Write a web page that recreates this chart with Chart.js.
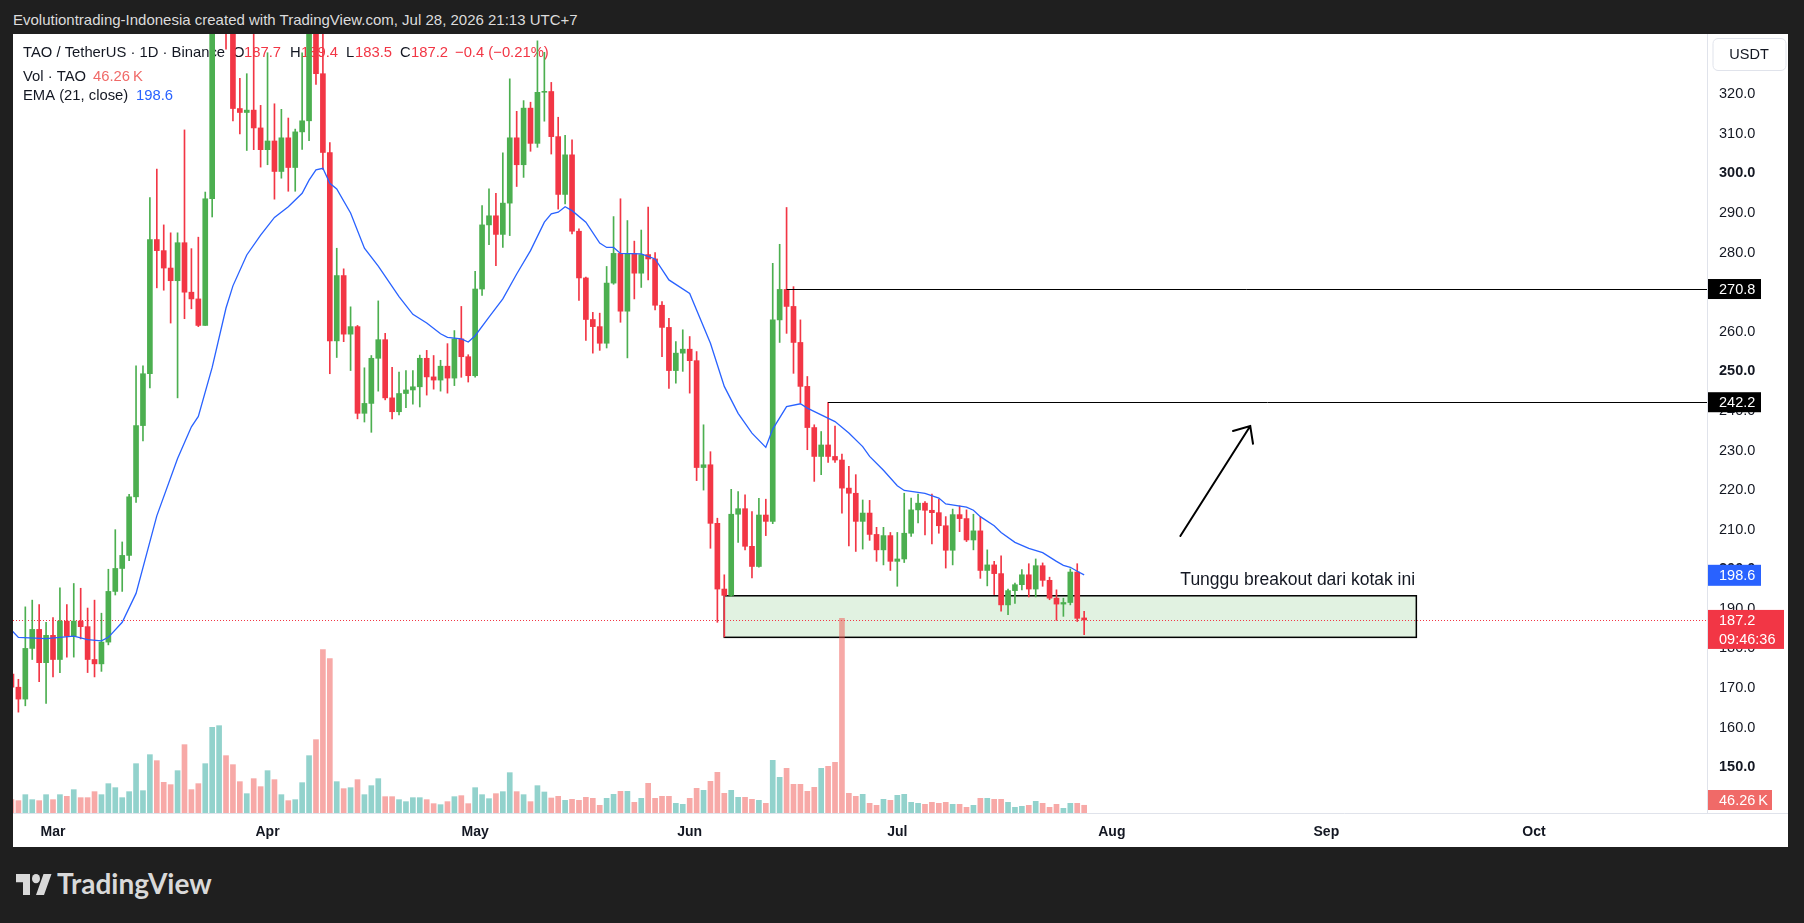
<!DOCTYPE html>
<html>
<head>
<meta charset="utf-8">
<title>TAO / TetherUS 1D</title>
<script src="https://cdn.jsdelivr.net/npm/chart.js"></script>
<style>
    html, body { margin: 0; padding: 0; }
    body { width: 1804px; height: 923px; background: #1f1f1f; position: relative; overflow: hidden;
           font-family: "Liberation Sans", Arial, sans-serif; }
    .header { position: absolute; left: 13px; top: 0; height: 40px; line-height: 40px; color: #dcdcdc;
              font-size: 15px; white-space: nowrap; }
    .panel { position: absolute; left: 13px; top: 34px; width: 1775px; height: 813px; background: #fff; }
    .brand { position: absolute; left: 0; top: 866px; }
</style>
</head>
<body>
    <div class="header">Evolutiontrading-Indonesia created with TradingView.com, Jul 28, 2026 21:13 UTC+7</div>
    <div class="panel">
        <canvas id="taoChart"></canvas>
    </div>
    <svg class="brand" width="260" height="45">
        <g transform="translate(16,3.3) scale(1.0,1.17)" fill="#d9d9d9">
            <path d="M14 22H7V11H0V4h14v18zM28 22h-8l7.5-18h8L28 22z"></path>
            <circle cx="20" cy="8" r="4"></circle>
        </g>
        <text x="57" y="27.6" fill="#d9d9d9" font-family="Lato, 'Open Sans', sans-serif" font-weight="700" font-size="28">TradingView</text>
    </svg>

    <script>
        // days counted from 1 Mar 2026 (day 0); first candle is 23 Feb
        const firstDay = -6;

        const opens = [
            173.5,170.2,167.2,180.0,184.8,176.4,183.3,177.2,186.9,183.1,
            186.9,185.5,177.2,176.1,181.6,194.4,200.2,203.5,218.3,236.3,
            249.4,283.3,280.5,276.1,272.9,282.5,270.0,268.3,261.6,293.6,
            345.0,355.0,340.0,316.4,315.4,316.0,311.5,306.0,308.2,300.5,
            309.0,301.5,310.5,313.3,341.0,325.2,305.3,257.7,274.2,259.4,
            261.3,239.4,241.9,253.3,258.0,243.3,239.8,244.4,245.3,246.1,
            253.3,248.6,247.8,251.3,248.3,258.2,253.7,248.9,270.8,287.0,
            289.3,284.6,292.5,309.0,302.2,316.5,307.6,320.5,320.7,309.3,
            294.7,304.7,285.4,273.6,263.1,261.3,257.1,272.3,279.8,265.2,
            279.8,274.8,279.5,278.4,266.7,261.1,250.2,254.6,255.6,252.7,
            225.7,226.4,211.6,195.0,193.4,213.9,215.3,205.8,200.7,213.7,
            212.1,263.0,270.7,266.4,257.3,246.2,235.8,228.5,231.4,228.5,
            227.6,220.5,219.2,212.1,214.2,208.8,204.9,208.5,202.0,202.6,
            209.1,215.0,216.7,214.9,214.3,211.0,204.8,213.8,212.8,207.4,
            209.7,199.7,201.1,198.9,191.0,194.6,196.1,198.6,195.0,200.9,
            197.2,192.7,191.2,191.6,199.3,187.7
        ];
        const highs = [
            175.5,172.2,190.5,192.2,191.1,186.6,187.8,195.3,191.1,196.4,
            195.2,190.2,192.2,188.9,200.0,210.0,206.9,218.9,251.4,251.4,
            293.9,301.1,287.0,285.0,285.0,311.0,281.0,283.9,295.3,352.0,
            365.0,360.0,345.0,324.0,325.2,336.0,317.2,330.5,317.6,316.2,
            314.0,311.2,330.5,348.0,347.0,336.5,307.8,281.1,275.9,266.3,
            261.6,250.9,254.0,267.8,259.6,251.0,249.8,250.2,250.2,254.1,
            255.3,254.0,252.8,257.0,260.3,266.4,254.2,275.3,291.9,296.1,
            295.0,305.2,323.9,315.7,318.4,318.0,333.5,330.6,323.0,314.2,
            309.6,308.5,286.0,273.8,264.9,264.7,276.5,289.1,293.6,288.1,
            282.9,285.7,291.5,280.0,267.6,263.4,257.5,260.5,258.8,255.0,
            236.5,229.7,212.9,198.6,220.2,219.6,218.8,214.6,217.9,217.7,
            277.3,282.1,291.4,271.4,263.0,248.7,236.5,234.8,242.2,236.2,
            229.1,226.0,223.9,217.5,217.4,210.6,210.6,209.3,209.3,219.2,
            218.0,219.0,217.1,219.0,217.7,213.3,215.2,216.0,215.0,213.9,
            213.2,204.9,202.0,203.4,195.0,196.5,199.9,201.4,202.6,201.6,
            198.0,194.8,192.7,200.1,201.4,189.4
        ];
        const lows = [
            168.5,163.9,165.5,177.2,171.6,166.1,172.8,173.9,177.8,177.8,
            182.4,173.9,172.8,174.2,180.9,193.5,194.4,202.2,216.9,232.4,
            245.8,271.1,270.5,262.2,243.3,263.3,265.8,261.3,261.6,289.0,
            338.0,331.4,313.3,310.0,305.8,306.0,301.6,302.2,293.5,298.8,
            295.5,295.5,306.1,308.3,322.5,301.0,249.4,253.5,257.5,250.2,
            238.0,237.2,234.6,245.0,242.8,238.0,239.0,240.8,241.7,241.0,
            244.0,245.5,245.0,244.5,246.4,248.5,247.3,248.5,269.2,282.0,
            276.7,281.3,284.3,296.7,299.0,305.6,306.6,313.2,304.9,291.0,
            292.3,284.7,267.9,257.8,254.6,255.3,255.9,272.0,262.4,253.4,
            268.3,271.2,273.1,265.5,253.7,245.7,247.0,250.0,244.5,222.4,
            220.0,205.3,186.6,182.9,193.1,206.8,204.9,197.8,200.5,208.5,
            211.5,257.3,259.6,249.5,242.0,230.2,222.2,223.9,227.0,227.0,
            214.2,205.9,204.5,205.1,207.3,202.0,201.1,199.7,195.7,201.7,
            208.3,211.7,208.7,206.4,209.1,200.3,201.1,209.5,207.0,204.9,
            197.7,195.8,193.6,189.4,188.5,191.4,194.8,193.0,193.0,195.7,
            192.3,187.1,188.1,191.0,186.8,183.5
        ];
        const closes = [
            170.2,167.2,180.0,184.8,176.4,183.3,177.2,186.9,183.1,186.9,
            185.5,177.2,176.1,181.6,194.4,200.2,203.5,218.3,236.3,249.4,
            283.3,280.5,276.1,272.9,282.5,270.0,268.3,261.6,293.6,345.0,
            355.0,340.0,316.4,315.4,316.0,311.5,306.0,308.2,300.5,309.0,
            301.5,310.5,313.3,341.0,325.2,305.3,257.7,274.2,259.4,261.3,
            239.4,241.9,253.3,258.0,243.3,239.8,244.4,245.3,246.1,253.3,
            248.6,247.8,251.3,248.3,258.2,253.7,248.9,270.8,287.0,289.3,
            284.6,292.5,309.0,302.2,316.5,307.6,320.5,320.7,309.3,294.7,
            304.7,285.4,273.6,263.1,261.3,257.1,272.3,279.8,265.2,279.8,
            274.8,279.5,278.4,266.7,261.1,250.2,254.6,255.6,252.7,225.7,
            226.4,211.6,195.0,193.4,213.9,215.3,205.8,200.7,213.7,212.1,
            263.0,270.7,266.4,257.3,246.2,235.8,228.5,231.4,228.5,227.6,
            220.5,219.2,212.1,214.2,208.8,204.9,208.5,202.0,202.6,209.1,
            215.0,216.7,214.9,214.3,211.0,204.8,213.8,212.8,207.4,209.7,
            199.7,201.1,198.9,191.0,194.6,196.1,198.6,195.0,200.9,197.2,
            192.7,191.2,191.6,199.3,187.6,187.2
        ];
        // volume in thousands of TAO
        const volumes = [
            80,74,110,80,74,110,80,110,100,140,
            92,92,128,110,176,152,92,128,296,134,
            350,314,184,170,254,410,140,176,296,514,
            524,344,290,188,116,206,158,254,200,110,
            74,80,182,344,440,980,926,188,146,152,
            200,110,164,206,98,98,80,68,92,92,
            80,56,50,68,98,104,56,152,110,86,
            116,128,242,128,110,68,164,126,90,100,
            76,82,76,94,88,46,88,112,130,130,
            64,88,178,88,100,100,58,52,88,148,
            136,190,244,118,136,94,94,82,76,58,
            316,214,268,172,172,130,154,268,280,304,
            1168,118,100,112,58,46,82,76,106,112,
            64,58,52,64,58,64,52,52,34,46,
            88,88,82,82,64,34,40,46,70,58,
            34,52,28,58,58,46.26
        ];

        // EMA(21)
        const emaDays = [-6,-5,-1,3,5,7,8,10,12,15,18,20,21,23,25,26,28,30,32,34,36,37,38,39,40,41,43,45,47,50,
            52,54,56,57,59,60,61,63,65,67,69,71,72,73,74,75,77,79,80,81,82,85,87,89,92,95,97,99,101,103,
            104,106,108,109,111,113,115,117,118,120,122,123,126,128,129,132,133,134,136,137,139,141,143,145,146,147,148,149];
        const emaValues = [184.6,182.8,182.5,183.1,182.2,181.9,182.8,186.6,193.9,213.5,228.0,236.0,238.6,251.0,266.0,271.6,279.4,284.4,288.9,291.6,295.0,298.3,300.9,301.3,297.5,296.1,290.0,281.1,276.6,268.9,
            264.4,262.2,259.5,258.6,258.2,257.4,259.0,263.7,268.3,274.6,280.5,287.7,289.8,290.2,291.6,290.6,287.7,282.4,281.3,281.3,279.8,279.7,278.4,273.1,269.7,257.1,246.2,239.4,234.4,230.8,
            235.4,241.1,241.8,240.7,239.0,237.3,234.4,231.0,228.5,225.0,221.1,219.9,219.2,218.0,216.5,215.7,214.9,213.3,211.0,209.3,206.8,205.3,204.2,202.0,201.0,200.5,199.5,198.6];

        const monthDays = [0, 31, 61, 92, 122, 153, 184, 214];
        const monthNames = ['Mar', 'Apr', 'May', 'Jun', 'Jul', 'Aug', 'Sep', 'Oct'];
        const priceTicks = [150,160,170,180,190,200,210,220,230,240,250,260,270,280,290,300,310,320];

        // drawings
        const levelValues = [270.8, 242.2];
        const levelFromDays = [106, 112];
        const boxDays = [97, 197];
        const boxPrices = [193.3, 182.8];
        const noteText = 'Tunggu breakout dari kotak ini';
        const noteDay = 162.9, notePrice = 197.3;
        const arrowDays = [162.9, 173.0];
        const arrowPrices = [208.4, 236.2];

        const lastPrice = 187.2, lastEma = 198.6, lastVolume = 46.26;
        const countdown = '09:46:36';

        const uiFont = '"Liberation Sans", Arial, sans-serif';
        const GREEN = '#4caf50', RED = '#f23645', BLUE = '#2962ff', INK = '#131722';

        const days = opens.map((_, i) => firstDay + i);
        const up = opens.map((o, i) => closes[i] >= o);
        const candleColors = up.map(u => u ? GREEN : RED);
        const volColors = up.map(u => u ? 'rgba(38,166,154,0.5)' : 'rgba(239,83,80,0.5)');

        Chart.defaults.font.family = uiFont;
        Chart.defaults.color = INK;

        function tag(ctx, left, yMid, w, h, bg, lines) {
            ctx.fillStyle = bg;
            ctx.fillRect(left, yMid - 10, w, h);
            ctx.fillStyle = '#fff';
            ctx.font = '14.5px ' + uiFont;
            ctx.textAlign = 'left';
            ctx.textBaseline = 'middle';
            lines.forEach((t, i) => ctx.fillText(t, left + 11, yMid + 1 + i * 19));
        }

        const drawings = {
            id: 'drawings',
            beforeDatasetsDraw(chart) {
                const { ctx, chartArea: a, scales: { x, y } } = chart;
                ctx.save();

                // legend
                ctx.textBaseline = 'middle';
                ctx.textAlign = 'left';
                ctx.font = '14.8px ' + uiFont;
                const put = (t, px, py, c) => { ctx.fillStyle = c; ctx.fillText(t, px, py); };
                put('TAO / TetherUS · 1D · Binance', 10, 19, INK);
                put('O', 220, 19, INK); put('187.7', 231, 19, RED);
                put('H', 277, 19, INK); put('189.4', 288, 19, RED);
                put('L', 333, 19, INK); put('183.5', 342, 19, RED);
                put('C', 387, 19, INK); put('187.2', 398, 19, RED);
                put('\u22120.4 (\u22120.21%)', 442, 19, RED);
                put('Vol · TAO', 10, 42.5, INK); put('46.26\u202fK', 80, 42.5, '#f06a68');
                put('EMA (21, close)', 10, 62, INK); put('198.6', 123, 62, BLUE);

                // box
                const bx0 = x.getPixelForValue(boxDays[0]), bx1 = x.getPixelForValue(boxDays[1]);
                const by0 = y.getPixelForValue(boxPrices[0]), by1 = y.getPixelForValue(boxPrices[1]);
                ctx.fillStyle = 'rgba(76,175,80,0.17)';
                ctx.fillRect(bx0, by0, bx1 - bx0, by1 - by0);
                ctx.strokeStyle = '#000';
                ctx.lineWidth = 1.5;
                ctx.strokeRect(bx0, by0, bx1 - bx0, by1 - by0);

                // last price line
                const py = Math.round(y.getPixelForValue(lastPrice)) + 0.5;
                ctx.strokeStyle = RED;
                ctx.lineWidth = 1;
                ctx.setLineDash([1, 2]);
                ctx.beginPath();
                ctx.moveTo(a.left, py);
                ctx.lineTo(a.right, py);
                ctx.stroke();
                ctx.restore();
            },
            afterDatasetsDraw(chart) {
                const { ctx, chartArea: a, scales: { x, y } } = chart;
                ctx.save();
                ctx.strokeStyle = '#000';
                ctx.lineWidth = 1;
                levelValues.forEach((v, i) => {
                    const ly = Math.round(y.getPixelForValue(v)) + 0.5;
                    ctx.beginPath();
                    ctx.moveTo(x.getPixelForValue(levelFromDays[i]), ly);
                    ctx.lineTo(a.right, ly);
                    ctx.stroke();
                });

                // arrow
                const x0 = x.getPixelForValue(arrowDays[0]), y0 = y.getPixelForValue(arrowPrices[0]);
                const x1 = x.getPixelForValue(arrowDays[1]), y1 = y.getPixelForValue(arrowPrices[1]);
                const ang = Math.atan2(y0 - y1, x0 - x1);
                ctx.lineWidth = 2;
                ctx.lineCap = 'round';
                ctx.beginPath();
                ctx.moveTo(x0, y0);
                ctx.lineTo(x1, y1);
                ctx.moveTo(x1 + 18 * Math.cos(ang + 0.72), y1 + 18 * Math.sin(ang + 0.72));
                ctx.lineTo(x1, y1);
                ctx.lineTo(x1 + 18 * Math.cos(ang - 0.72), y1 + 18 * Math.sin(ang - 0.72));
                ctx.stroke();

                ctx.fillStyle = INK;
                ctx.font = '17.5px ' + uiFont;
                ctx.textAlign = 'left';
                ctx.textBaseline = 'middle';
                ctx.fillText(noteText, x.getPixelForValue(noteDay), y.getPixelForValue(notePrice));
                ctx.restore();
            },
            afterDraw(chart) {
                const { ctx, chartArea: a, scales: { y, vol } } = chart;
                const left = y.left + 1;
                ctx.save();
                // time axis separator across the whole panel
                ctx.strokeStyle = '#e0e3eb';
                ctx.lineWidth = 1;
                ctx.beginPath();
                ctx.moveTo(0, a.bottom + 0.5);
                ctx.lineTo(chart.width, a.bottom + 0.5);
                ctx.stroke();

                levelValues.forEach(v => tag(ctx, left, y.getPixelForValue(v), 53, 20, '#000', [v.toFixed(1)]));
                tag(ctx, left, y.getPixelForValue(lastEma), 53, 21, BLUE, [lastEma.toFixed(1)]);
                tag(ctx, left, y.getPixelForValue(lastPrice), 76, 39, RED, [lastPrice.toFixed(1), countdown]);
                const vy = Math.min(vol.getPixelForValue(lastVolume), a.bottom - 13);
                tag(ctx, left, vy, 64, 20, '#f06a68', ['46.26\u202fK']);

                // currency button
                ctx.fillStyle = '#fff';
                ctx.strokeStyle = '#e0e3eb';
                ctx.beginPath();
                ctx.roundRect(left + 5, 4.5, 73, 32, 5);
                ctx.fill();
                ctx.stroke();
                ctx.fillStyle = INK;
                ctx.font = '14.5px ' + uiFont;
                ctx.textAlign = 'center';
                ctx.textBaseline = 'middle';
                ctx.fillText('USDT', left + 41, 21);
                ctx.restore();
            }
        };

        const ctx = document.getElementById('taoChart').getContext('2d');
        const taoChart = new Chart(ctx, {
            type: 'bar',
            data: {
                datasets: [
                    {
                        label: 'Volume',
                        data: days.map((d, i) => ({ x: d, y: volumes[i] })),
                        yAxisID: 'vol',
                        backgroundColor: volColors,
                        barThickness: 5,
                        grouped: false,
                        order: 4
                    },
                    {
                        label: 'Wick',
                        data: days.map((d, i) => ({ x: d, y: [lows[i], highs[i]] })),
                        yAxisID: 'y',
                        backgroundColor: candleColors,
                        barThickness: 1,
                        grouped: false,
                        order: 3
                    },
                    {
                        label: 'Body',
                        data: days.map((d, i) => ({ x: d, y: [opens[i], closes[i]] })),
                        yAxisID: 'y',
                        backgroundColor: candleColors,
                        barThickness: 5,
                        minBarLength: 1,
                        grouped: false,
                        order: 2
                    },
                    {
                        type: 'line',
                        label: 'EMA 21',
                        data: emaDays.map((d, i) => ({ x: d, y: emaValues[i] })),
                        yAxisID: 'y',
                        borderColor: BLUE,
                        borderWidth: 1.3,
                        pointRadius: 0,
                        tension: 0,
                        order: 1
                    }
                ]
            },
            options: {
                responsive: true,
                maintainAspectRatio: false,
                animation: false,
                events: [],
                layout: { padding: 0 },
                datasets: { bar: { clip: 0 }, line: { clip: 0 } },
                plugins: { legend: { display: false }, tooltip: { enabled: false } },
                scales: {
                    x: {
                        type: 'linear',
                        min: -5.78,
                        max: 239.0,
                        offset: false,
                        grid: { display: false, offset: false, drawTicks: false },
                        border: { display: false },
                        afterBuildTicks: s => { s.ticks = monthDays.map(v => ({ value: v })); },
                        afterFit: s => { s.height = 34; s.paddingLeft = 0; s.paddingRight = 0; },
                        ticks: {
                            autoSkip: false,
                            maxRotation: 0,
                            padding: 11,
                            color: INK,
                            font: { size: 14, weight: 'bold' },
                            callback: (v, i) => monthNames[i]
                        }
                    },
                    y: {
                        type: 'linear',
                        position: 'right',
                        min: 138.42,
                        max: 335.23,
                        grid: { display: false, drawTicks: false },
                        border: { display: true, color: '#e0e3eb' },
                        afterBuildTicks: s => { s.ticks = priceTicks.map(v => ({ value: v })); },
                        afterFit: s => { s.width = 81; s.paddingTop = 0; s.paddingBottom = 0; },
                        ticks: {
                            padding: 12,
                            color: INK,
                            font: c => ({ size: 14.5, weight: c.tick && c.tick.value % 50 === 0 ? 'bold' : 'normal' }),
                            callback: v => v.toFixed(1)
                        }
                    },
                    vol: {
                        type: 'linear',
                        display: false,
                        min: 0,
                        max: 4674,
                        afterFit: s => { s.paddingTop = 0; s.paddingBottom = 0; }
                    }
                }
            },
            plugins: [drawings]
        });
    </script>
</body>
</html>
